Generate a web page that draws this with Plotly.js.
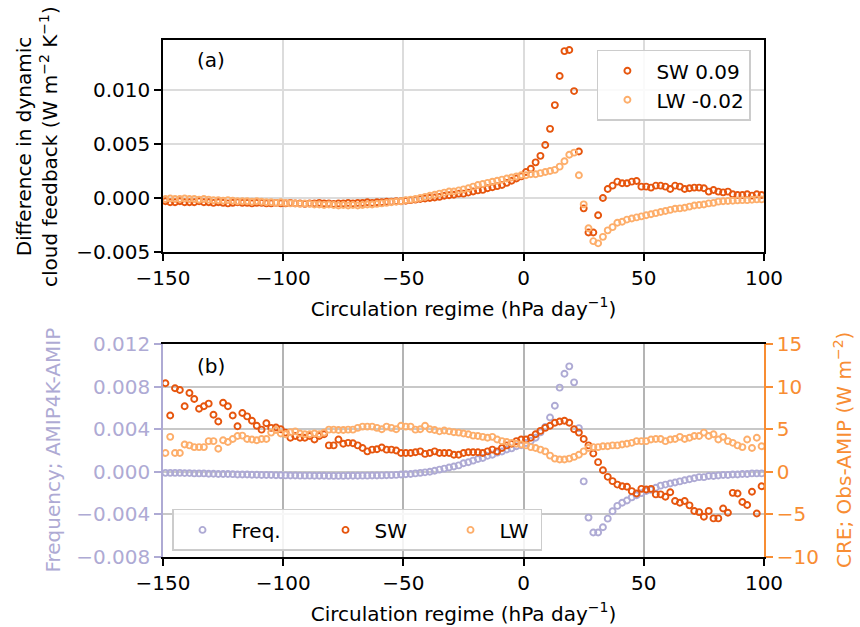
<!DOCTYPE html>
<html>
<head>
<meta charset="utf-8">
<script src="https://cdn.plot.ly/plotly-3.0.1.min.js"></script>
<style>html,body{margin:0;padding:0;background:#fff;}#chart{width:860px;height:627px;}</style>
</head>
<body>
<div id="chart"></div>
<script>
// Circulation regime bin centres (hPa/day)
const regime = [-149,-147,-145,-143,-141,-139,-137,-135,-133,-131,-129,-127,-125,-123,-121,-119,-117,-115,-113,-111,-109,-107,-105,-103,-101,-99,-97,-95,-93,-91,-89,-87,-85,-83,-81,-79,-77,-75,-73,-71,-69,-67,-65,-63,-61,-59,-57,-55,-53,-51,-49,-47,-45,-43,-41,-39,-37,-35,-33,-31,-29,-27,-25,-23,-21,-19,-17,-15,-13,-11,-9,-7,-5,-3,-1,1,3,5,7,9,11,13,15,17,19,21,23,25,27,29,31,33,35,37,39,41,43,45,47,49,51,53,55,57,59,61,63,65,67,69,71,73,75,77,79,81,83,85,87,89,91,93,95,97,99];

// (a) difference in dynamic cloud feedback
const aSW = [-0.0003,-0.0004,-0.0004,-0.0003,-0.0004,-0.0004,-0.0004,-0.0003,-0.0004,-0.0004,
  -0.00045,-0.0004,-0.00045,-0.0005,-0.00045,-0.0004,-0.00045,-0.00045,-0.0005,-0.00045,-0.00045,-0.0005,-0.0005,-0.00045,-0.0005,
  -0.0005,-0.00045,-0.0005,-0.0005,-0.00055,-0.0005,-0.0005,-0.00045,-0.0005,-0.0005,-0.00055,-0.0005,-0.0005,-0.00045,-0.0005,
  -0.00045,-0.00045,-0.0004,-0.00045,-0.0004,-0.0004,-0.00035,-0.00035,-0.0003,-0.0003,
  -0.00025,-0.0002,-0.00015,-0.0001,-0.00005,0.0,0.00005,0.0001,0.0002,0.00025,0.0003,0.0004,0.0004,0.0005,0.0006,0.0007,0.00075,0.0009,0.001,0.0011,0.0012,0.0014,0.0016,0.0018,0.002,
  0.0024,0.0027,0.0033,0.0039,0.0049,0.0064,0.0086,0.0113,0.0136,0.0137,0.0099,0.0043,-0.00096,-0.0032,-0.0032,-0.0016,0.0,
  0.00083,0.00114,0.00151,0.00136,0.00136,0.00151,0.00157,0.00105,0.00105,0.00096,0.00114,0.00114,0.00105,0.00083,0.00114,0.00105,0.00083,0.0009,0.00096,0.00096,0.0009,0.00059,0.00074,0.00059,0.00052,0.00059,0.00034,0.00028,0.00028,0.00034,0.00022,0.00034,0.00028];
const aLW = [-0.0001,-0.00005,-0.0001,-0.0001,-0.00005,-0.0001,-0.0001,-0.00015,-0.0001,-0.00015,
  -0.0002,-0.0002,-0.00025,-0.0002,-0.00025,-0.0003,-0.0003,-0.0003,-0.00035,-0.0003,-0.00035,-0.0004,-0.0004,-0.00045,-0.0004,
  -0.00045,-0.0005,-0.0005,-0.00055,-0.0005,-0.00055,-0.0006,-0.0006,-0.00065,-0.0006,-0.00065,-0.0007,-0.00065,-0.0007,-0.00065,
  -0.0007,-0.00065,-0.0006,-0.0006,-0.00055,-0.0005,-0.00045,-0.0004,-0.00035,-0.0003,
  -0.0002,-0.00015,-0.0001,0.0,0.0001,0.0002,0.0003,
  0.0004,0.0005,0.0006,0.0006,0.0007,0.0008,0.0009,0.00105,0.0012,0.0013,0.0014,0.0015,0.0016,0.0017,0.0018,0.0019,0.002,0.0021,
  0.0021,0.0022,0.0022,0.0023,0.0024,0.0025,0.0026,0.0029,0.0034,0.004,0.0042,0.0021,-0.00059,-0.0028,-0.004,-0.0042,-0.0036,
  -0.003,-0.0027,-0.0023,-0.0022,-0.002,-0.0019,-0.0018,-0.0017,-0.0016,-0.0015,-0.0014,-0.0013,-0.0012,-0.0011,-0.001,-0.00096,-0.0009,-0.0008,-0.0007,-0.00065,-0.0006,-0.0005,-0.00045,-0.00034,-0.0003,-0.00028,-0.00025,-0.00022,-0.0002,-0.0002,-0.00016,-0.00013,-0.00013];

// (b) frequency change (left axis) and CRE bias (right axis)
const bFreq = [-0.0001,-0.0001,-0.0001,-0.0001,-0.00012,-0.00012,
  -0.00015,-0.00015,-0.00015,-0.00018,-0.00018,-0.0002,-0.0002,-0.0002,-0.00022,
  -0.00025,-0.00025,-0.00025,-0.00028,-0.00028,-0.0003,-0.0003,-0.0003,-0.00032,-0.00032,
  -0.00034,-0.00035,-0.00035,-0.00036,-0.00036,-0.00036,-0.00037,-0.00037,-0.00037,-0.00038,-0.00038,-0.00038,-0.00038,-0.00037,-0.00037,-0.00037,-0.00036,-0.00036,-0.00035,-0.00035,-0.00034,-0.00033,
  -0.00031,-0.00029,-0.00026,-0.00023,-0.0002,-0.00015,-0.0001,-0.00005,
  0.0,0.0001,0.0002,0.0003,0.0004,0.0005,0.0006,0.0008,0.0009,0.00105,0.0012,0.0013,0.0015,0.0016,0.0018,0.0019,0.0021,0.0022,0.0024,0.0025,
  0.0027,0.0029,0.0032,0.0037,0.0042,0.0051,0.0062,0.0079,0.0092,0.0099,0.0084,0.0041,-0.0009,-0.0043,-0.0057,-0.0057,-0.0052,
  -0.0044,-0.0037,-0.0032,-0.0029,-0.0027,-0.0024,-0.0022,-0.002,-0.0018,-0.0017,-0.0015,-0.0013,-0.0012,-0.0011,-0.001,-0.0009,-0.0008,-0.0007,-0.0006,-0.0005,-0.0005,-0.0004,-0.0004,-0.00035,-0.0003,-0.0003,-0.00025,-0.00025,-0.0002,-0.0002,-0.00015,-0.00015,-0.00015];
const bSW = [10.4,6.6,9.8,9.6,7.7,9.25,8.55,7.4,7.7,8.0,6.7,5.9,8.1,7.7,6.6,5.35,6.9,6.5,6.0,5.4,4.95,5.7,5.15,5.2,5.0,4.6,4.0,4.2,4.0,4.0,4.2,3.8,4.2,4.4,3.1,3.1,3.8,3.3,3.4,3.35,3.1,2.8,2.4,2.6,2.65,2.85,2.6,2.6,2.5,2.2,2.2,2.2,2.3,2.4,2.1,2.2,2.4,2.2,
  2.2,2.2,2.0,2.0,2.2,2.3,2.3,2.3,2.2,2.4,2.6,2.4,2.8,3.1,3.3,3.6,3.8,
  3.8,4.0,4.4,4.8,5.15,5.4,5.75,5.9,6.0,5.75,5.0,4.6,3.85,3.1,2.14,1.13,0.19,
  -0.59,-1.1,-1.5,-1.7,-1.76,-2.27,-2.55,-2.0,-2.07,-2.0,-2.65,-2.65,-2.93,-2.4,-3.43,-3.63,-3.43,-3.94,-4.6,-4.73,-5.27,-4.6,-5.47,-5.47,-4.3,-4.8,-2.47,-2.55,-3.55,-3.9,-2.35,-4.9,-1.7];
const bLW = [2.2,4.1,2.2,2.2,3.2,3.1,2.9,2.9,2.9,3.6,3.6,2.7,3.7,3.5,3.85,4.2,4.25,3.85,3.8,3.7,3.85,3.85,4.6,4.9,4.5,4.4,4.65,4.75,4.5,4.4,4.4,4.5,4.4,4.6,4.95,4.95,4.9,4.9,4.95,4.95,5.15,5.3,5.3,5.3,5.15,5.0,5.3,5.15,5.0,5.4,5.3,5.3,4.95,5.0,5.4,5.0,4.9,4.75,
  4.85,4.75,4.65,4.6,4.5,4.4,4.25,4.2,4.1,4.0,4.1,3.8,3.6,3.5,3.4,3.3,3.2,
  3.1,2.9,2.8,2.6,2.4,1.9,1.55,1.45,1.45,1.55,1.75,2.0,2.4,2.8,2.9,2.9,3.0,
  3.0,3.1,3.1,3.2,3.3,3.4,3.6,3.6,3.6,3.8,3.85,3.85,3.6,3.8,3.85,4.1,3.85,4.0,4.2,4.2,4.6,4.2,4.4,3.8,4.1,3.6,3.4,3.1,2.9,3.8,2.8,4.0,3.0];

const legendA = ['SW 0.09', 'LW -0.02'];
const legendB = ['Freq.', 'SW', 'LW'];
const xTicks = [-150, -100, -50, 0, 50, 100];

const C_SW = '#e6550d', C_LW = '#fdae6b', C_FQ = '#aeaad4', C_RAX = '#f88d33';
const FONT = 'DejaVu Sans, Liberation Sans, sans-serif';
const FS = 20;

function mk(color) {
  return {symbol: 'circle-open', size: 6, color: color, line: {width: 1.9, color: color}};
}

const traces = [
  {x: regime, y: aSW, type: 'scatter', mode: 'markers', name: legendA[0], marker: mk(C_SW), xaxis: 'x', yaxis: 'y', legend: 'legend', legendgroup: 'a1'},
  {x: regime, y: aLW, type: 'scatter', mode: 'markers', name: legendA[1], marker: mk(C_LW), xaxis: 'x', yaxis: 'y', legend: 'legend', legendgroup: 'a2'},
  {x: regime, y: bFreq, type: 'scatter', mode: 'markers', name: legendB[0], marker: mk(C_FQ), xaxis: 'x2', yaxis: 'y2', legend: 'legend2', legendwidth: 80},
  {x: regime, y: bSW, type: 'scatter', mode: 'markers', name: legendB[1], marker: mk(C_SW), xaxis: 'x2', yaxis: 'y3', legend: 'legend2', legendwidth: 62},
  {x: regime, y: bLW, type: 'scatter', mode: 'markers', name: legendB[2], marker: mk(C_LW), xaxis: 'x2', yaxis: 'y3', legend: 'legend2', legendwidth: 36}
];

const xCommon = {
  range: [-150, 100], tickvals: xTicks, ticks: 'outside', ticklen: 7, tickwidth: 1.5, tickcolor: '#000',
  showline: true, linewidth: 1.5, linecolor: '#000', mirror: true, zeroline: false,
  tickfont: {family: FONT, size: FS, color: '#000'},
  title: {text: 'Circulation regime (hPa day<sup>−1</sup>)', font: {family: FONT, size: FS, color: '#000'}, standoff: 13}
};

const legendCommon = {bgcolor: 'rgba(255,255,255,0.85)', bordercolor: '#cccccc', borderwidth: 1.5,
  font: {family: FONT, size: FS, color: '#000'}, itemsizing: 'trace', itemwidth: 48};

const layout = {
  width: 860, height: 627,
  margin: {l: 163, r: 96, t: 40, b: 70},
  paper_bgcolor: '#fff', plot_bgcolor: '#fff',
  font: {family: FONT, size: FS, color: '#000'},
  showlegend: true,
  xaxis: Object.assign({}, xCommon, {domain: [0, 1], anchor: 'y', showgrid: true, gridcolor: '#dcdcdc', gridwidth: 1.5}),
  yaxis: {domain: [0.59, 1], anchor: 'x', range: [-0.005, 0.01463], tickvals: [-0.005, 0, 0.005, 0.01], tickformat: '.3f',
    ticks: 'outside', ticklen: 7, tickwidth: 1.5, tickcolor: '#000', showline: true, linewidth: 1.5, linecolor: '#000', mirror: true,
    zeroline: false, showgrid: true, gridcolor: '#dcdcdc', gridwidth: 1.5, tickfont: {family: FONT, size: FS, color: '#000'}},
  xaxis2: Object.assign({}, xCommon, {domain: [0, 1], anchor: 'y2', showgrid: true, gridcolor: '#b4b4b4', gridwidth: 1.5}),
  yaxis2: {domain: [0, 0.412], anchor: 'x2', range: [-0.008, 0.012], tickvals: [-0.008, -0.004, 0, 0.004, 0.008, 0.012], tickformat: '.3f',
    ticks: 'outside', ticklen: 7, tickwidth: 1.5, tickcolor: C_FQ, showline: true, linewidth: 1.5, linecolor: C_FQ,
    zeroline: false, showgrid: true, gridcolor: '#c8c8c8', gridwidth: 2, tickfont: {family: FONT, size: FS, color: C_FQ}},
  yaxis3: {overlaying: 'y2', side: 'right', anchor: 'x2', range: [-10, 15], tickvals: [-10, -5, 0, 5, 10, 15],
    ticks: 'outside', ticklen: 7, tickwidth: 1.5, tickcolor: C_RAX, showline: true, linewidth: 1.5, linecolor: C_RAX,
    zeroline: false, showgrid: false, tickfont: {family: FONT, size: FS, color: C_RAX}},
  legend: Object.assign({}, legendCommon, {x: 0.722, y: 0.981, xanchor: 'left', yanchor: 'top', tracegroupgap: 0}),
  legend2: Object.assign({}, legendCommon, {orientation: 'h', x: 0.015, y: 0.093, xanchor: 'left', yanchor: 'top'}),
  annotations: [
    {text: 'Difference in dynamic<br>cloud feedback (W m<sup>−2</sup> K<sup>−1</sup>)', textangle: -90, xref: 'paper', yref: 'paper',
      x: -0.2097, y: 0.795, xanchor: 'center', yanchor: 'middle', showarrow: false, font: {family: FONT, size: FS, color: '#000'}},
    {text: 'Frequency; AMIP4K-AMIP', textangle: -90, xref: 'paper', yref: 'paper',
      x: -0.1830, y: 0.206, xanchor: 'center', yanchor: 'middle', showarrow: false, font: {family: FONT, size: FS, color: C_FQ}},
    {text: 'CRE; Obs-AMIP (W m<sup>−2</sup>)', textangle: -90, xref: 'paper', yref: 'paper',
      x: 1.1323, y: 0.206, xanchor: 'center', yanchor: 'middle', showarrow: false, font: {family: FONT, size: FS, color: C_RAX}},
    {text: '(a)', xref: 'paper', yref: 'paper', x: 0.0795, y: 0.961, xanchor: 'center', yanchor: 'middle', showarrow: false, font: {family: FONT, size: FS, color: '#000'}},
    {text: '(b)', xref: 'paper', yref: 'paper', x: 0.0795, y: 0.369, xanchor: 'center', yanchor: 'middle', showarrow: false, font: {family: FONT, size: FS, color: '#000'}}
  ]
};

Plotly.newPlot('chart', traces, layout, {displayModeBar: false, responsive: false});
</script>
</body>
</html>
